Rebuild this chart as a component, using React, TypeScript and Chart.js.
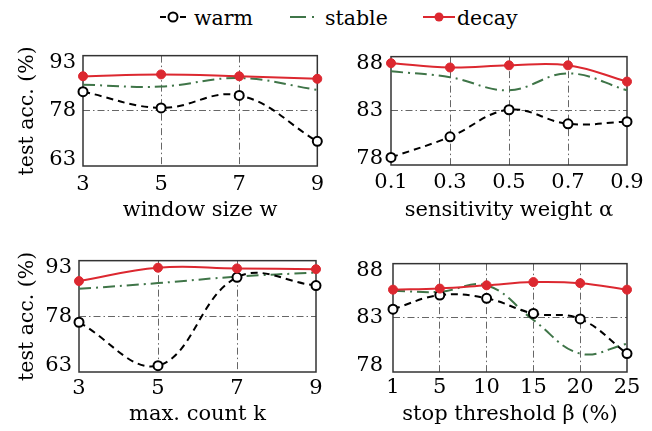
import React, { useEffect, useRef } from 'react';
import { Chart, registerables } from 'chart.js';
Chart.register(...registerables);

// ---------- data ----------
const windowSizes = ['3', '5', '7', '9'];
const windowWarm = [83.2, 78.8, 82.2, 69.7];
const windowStable = [85.1, 84.6, 86.9, 83.7];
const windowDecay = [87.4, 87.9, 87.4, 86.7];

const weights = ['0.1', '0.3', '0.5', '0.7', '0.9'];
const weightWarm = [78.7, 80.6, 83.1, 81.8, 82.0];
const weightStable = [86.65, 86.1, 84.9, 86.45, 84.9];
const weightDecay = [87.4, 87.0, 87.2, 87.2, 85.7];

const counts = ['3', '5', '7', '9'];
const countWarm = [76.4, 64.7, 88.5, 86.3];
const countStable = [85.4, 86.95, 88.7, 89.8];
const countDecay = [87.5, 91.1, 90.9, 90.7];

const thresholds = ['1', '5', '10', '15', '20', '25'];
const thresholdWarm = [83.8, 85.1, 84.8, 83.4, 82.9, 79.7];
const thresholdStable = [85.5, 85.4, 86.0, 82.8, 79.7, 80.6];
const thresholdDecay = [85.6, 85.7, 86.0, 86.3, 86.2, 85.6];

const wideRange = [63, 93, 15];
const narrowRange = [78, 88, 5];

const seriesNames = ['warm', 'stable', 'decay'];

// ---------- styles ----------
const FONT = '"DejaVu Serif", serif';
const RED = '#dc2830';
const GREEN = '#3f7548';
const GRID = '#666666';

const framePlugin = {
  id: 'frame',
  beforeDatasetsDraw(chart: any) {
    const { ctx, chartArea: a } = chart;
    ctx.save();
    ctx.setLineDash([]);
    ctx.strokeStyle = '#333333';
    ctx.lineWidth = 1.5;
    ctx.strokeRect(a.left, a.top, a.right - a.left, a.bottom - a.top);
    ctx.restore();
  },
};

type PanelProps = {
  x: number; y: number; w: number; h: number;
  pad: { top: number; right: number; bottom: number; left: number };
  yWidth: number; xHeight: number;
  xPad: number; yPad: number;
  labels: string[];
  warm: number[]; stable: number[]; decay: number[];
  range: number[];
  xTitle: string; yTitle?: string;
};

function Panel(p: PanelProps) {
  const ref = useRef<HTMLCanvasElement | null>(null);
  useEffect(() => {
    if (!ref.current) return;
    const interior = (ctx: any) => {
      const n = ctx.chart && ctx.scale ? ctx.scale.ticks.length : 0;
      return ctx.index === 0 || ctx.index === n - 1 ? 'rgba(0,0,0,0)' : GRID;
    };
    const chart = new Chart(ref.current, {
      type: 'line',
      data: {
        labels: p.labels,
        datasets: [
          {
            label: seriesNames[2], data: p.decay,
            borderColor: RED, backgroundColor: RED, borderWidth: 2,
            pointRadius: 4.5, pointBackgroundColor: RED, pointBorderColor: RED, pointBorderWidth: 1,
            tension: 0.4, fill: false,
          },
          {
            label: seriesNames[0], data: p.warm,
            borderColor: '#000000', backgroundColor: '#ffffff', borderWidth: 2, borderDash: [7, 5],
            pointRadius: 4.5, pointBackgroundColor: '#ffffff', pointBorderColor: '#000000', pointBorderWidth: 2,
            tension: 0.4, fill: false,
          },
          {
            label: seriesNames[1], data: p.stable,
            borderColor: GREEN, backgroundColor: GREEN, borderWidth: 2, borderDash: [12, 5, 2, 5],
            pointRadius: 0, tension: 0.4, fill: false,
          },
        ],
      },
      options: {
        responsive: false,
        animation: false,
        devicePixelRatio: 1,
        layout: { padding: p.pad },
        plugins: { legend: { display: false }, tooltip: { enabled: false } },
        scales: {
          x: {
            type: 'category',
            offset: false,
            afterFit: (s: any) => { s.height = p.xHeight; },
            grid: { color: interior, lineWidth: 1, drawTicks: false },
            border: { display: false, dash: [7, 3, 1.5, 3] },
            ticks: {
              autoSkip: false, maxRotation: 0, padding: p.xPad, color: '#000',
              font: { family: FONT, size: 21 },
            },
            title: {
              display: true, text: p.xTitle, color: '#000', padding: 0,
              font: { family: FONT, size: 21, lineHeight: 1.2 },
            },
          },
          y: {
            type: 'linear',
            min: p.range[0], max: p.range[1],
            afterFit: (s: any) => { s.width = p.yWidth; },
            grid: { color: interior, lineWidth: 1, drawTicks: false },
            border: { display: false, dash: [7, 3, 1.5, 3] },
            ticks: {
              stepSize: p.range[2], padding: p.yPad, color: '#000',
              font: { family: FONT, size: 21, lineHeight: 0.65 },
              callback: (value: any, index: number, ticks: any[]) => {
                const s = String(value);
                if (index === ticks.length - 1) return ['', s];
                if (index === 0) return [s, ''];
                return s;
              },
            },
            title: {
              display: !!p.yTitle, text: p.yTitle || '', color: '#000',
              padding: { top: 15, bottom: 0 },
              font: { family: FONT, size: 20.5, lineHeight: 1.2 },
            },
          },
        },
      },
      plugins: [framePlugin],
    } as any);
    return () => chart.destroy();
  }, []);
  return (
    <canvas
      ref={ref}
      width={p.w}
      height={p.h}
      style={{ position: 'absolute', left: p.x, top: p.y, width: p.w, height: p.h }}
    />
  );
}

function LegendItem(props: { left: number; name: string; kind: number }) {
  const { left, name, kind } = props;
  let icon: React.ReactNode = null;
  if (kind === 0) {
    icon = (
      <svg width={28} height={26}>
        <line x1={0} y1={12} x2={28} y2={12} stroke="#000" strokeWidth={2} strokeDasharray="6,4" />
        <circle cx={13} cy={12} r={4.5} fill="#fff" stroke="#000" strokeWidth={2} />
      </svg>
    );
  } else if (kind === 1) {
    icon = (
      <svg width={30} height={26}>
        <line x1={0} y1={12} x2={30} y2={12} stroke={GREEN} strokeWidth={2} strokeDasharray="16,6,2,6" />
      </svg>
    );
  } else {
    icon = (
      <svg width={32} height={26}>
        <line x1={0} y1={12} x2={32} y2={12} stroke={RED} strokeWidth={2} />
        <circle cx={16} cy={12} r={4.5} fill={RED} />
      </svg>
    );
  }
  return (
    <div
      style={{
        position: 'absolute', left, top: 5, height: 26, display: 'flex', alignItems: 'center',
        fontFamily: FONT, fontSize: 20.5, lineHeight: '26px', color: '#000', whiteSpace: 'nowrap',
      }}
    >
      {icon}
      <span style={{ marginLeft: kind === 2 ? 2 : kind === 1 ? 5 : 6 }}>{name}</span>
    </div>
  );
}

export default function App() {
  return (
    <div
      style={{
        position: 'absolute', left: 0, top: 0, width: 652, height: 431,
        background: '#fff', overflow: 'hidden',
      }}
    >
      <LegendItem left={160} name={seriesNames[0]} kind={0} />
      <LegendItem left={290} name={seriesNames[1]} kind={1} />
      <LegendItem left={423} name={seriesNames[2]} kind={2} />
      <Panel
        x={0} y={35} w={330} h={190}
        pad={{ top: 17, right: 10, bottom: 2, left: 0 }}
        yWidth={83} xHeight={57} xPad={6} yPad={7}
        labels={windowSizes} warm={windowWarm} stable={windowStable} decay={windowDecay}
        range={wideRange} xTitle="window size w" yTitle="test acc. (%)"
      />
      <Panel
        x={330} y={35} w={322} h={190}
        pad={{ top: 17, right: 25, bottom: 2, left: 0 }}
        yWidth={61} xHeight={58} xPad={5} yPad={8}
        labels={weights} warm={weightWarm} stable={weightStable} decay={weightDecay}
        range={narrowRange} xTitle="sensitivity weight α"
      />
      <Panel
        x={0} y={240} w={330} h={191}
        pad={{ top: 16, right: 14, bottom: 4, left: 0 }}
        yWidth={79} xHeight={55} xPad={4} yPad={7}
        labels={counts} warm={countWarm} stable={countStable} decay={countDecay}
        range={wideRange} xTitle="max. count k" yTitle="test acc. (%)"
      />
      <Panel
        x={330} y={240} w={322} h={191}
        pad={{ top: 17, right: 25, bottom: 4, left: 0 }}
        yWidth={63} xHeight={55} xPad={3} yPad={10}
        labels={thresholds} warm={thresholdWarm} stable={thresholdStable} decay={thresholdDecay}
        range={narrowRange} xTitle="stop threshold β (%)"
      />
    </div>
  );
}
